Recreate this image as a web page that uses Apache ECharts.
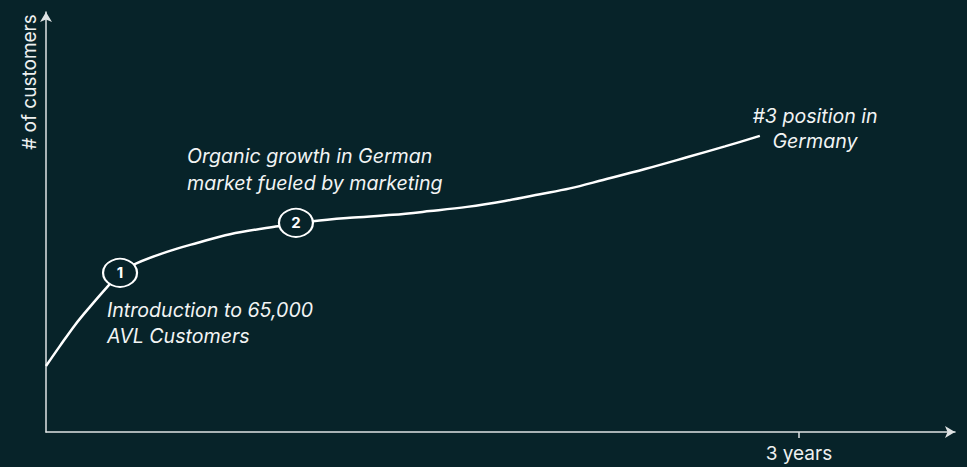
<!DOCTYPE html>
<html>
<head>
<meta charset="utf-8">
<script src="https://cdn.jsdelivr.net/npm/echarts@6/dist/echarts.min.js"></script>
<style>
html,body{margin:0;padding:0;background:#072329;}
#chart{width:967px;height:467px;}
</style>
</head>
<body>
<div id="chart"></div>
<script>
// Months since launch (x) and relative number of customers (y)
const months = [0, 0.67, 1.39, 2.10, 2.92, 3.54, 4.35, 5.78, 7.22, 8.80, 11.09, 12.76, 14.53, 16.59, 18.36, 20.13, 21.94, 23.62, 25.05, 26.63, 28.64, 30.64, 32.46, 34.13];
const customers = [15.7, 20.5, 25.5, 29.8, 34.5, 37.9, 40.2, 42.9, 45.0, 47.1, 49.0, 50.2, 51.0, 51.7, 52.6, 53.6, 55.0, 56.6, 58.0, 60.0, 62.6, 65.4, 68.0, 70.5];
// Milestone markers
const markerMonths = [3.54, 11.95];
const markerValues = [37.9, 49.8];
const markerLabels = ['1', '2'];
// Tick labels
const tickMonths = [36];
const tickLabels = ['3 years'];
const yAxisTitle = '# of customers';
// Annotations
const note1 = ['Introduction to 65,000', 'AVL Customers'];
const note2 = ['Organic growth in German', 'market fueled by marketing'];
const note3 = ['#3 position in', 'Germany'];

const BG = '#072329';
const AXIS = '#dfe3e4';
const FONT = 'Inter, "Liberation Sans", Arial, sans-serif';

const chart = echarts.init(document.getElementById('chart'), null, {renderer: 'svg'});

const seriesData = months.map((m, i) => [m, customers[i]]);
const markers = markerMonths.map((m, i) => ({coord: [m, markerValues[i]], value: markerLabels[i]}));

function noteText(lines, x, y0, lh, align) {
  return lines.map((t, i) => ({
    type: 'text', x: x, y: y0 + i * lh, silent: true,
    style: {text: t, fill: '#f2f4f4', font: 'italic 19.6px ' + FONT, align: align, verticalAlign: 'middle'}
  }));
}

chart.setOption({
  backgroundColor: BG,
  animation: false,
  grid: {left: 46, right: 12, top: 12, bottom: 35},
  xAxis: {
    type: 'value', min: 0, max: 43.46,
    splitLine: {show: false},
    axisLine: {show: true, lineStyle: {color: AXIS, width: 1.5}, symbol: ['none', 'arrow'], symbolSize: [9, 10]},
    axisTick: {show: true, customValues: tickMonths, length: 6, inside: false, lineStyle: {color: AXIS, width: 1.5}},
    axisLabel: {show: true, customValues: tickMonths, margin: 12, color: '#eef0f0', fontSize: 19, fontFamily: FONT,
      formatter: (v) => tickLabels[tickMonths.indexOf(v)] || ''}
  },
  yAxis: {
    type: 'value', min: 0, max: 100,
    splitLine: {show: false},
    axisLine: {show: true, lineStyle: {color: AXIS, width: 1.5}, symbol: ['none', 'arrow'], symbolSize: [9, 10]},
    axisTick: {show: false},
    axisLabel: {show: false}
  },
  series: [{
    type: 'line',
    data: seriesData,
    smooth: 0.35,
    showSymbol: false,
    lineStyle: {color: '#ffffff', width: 2.5},
    z: 2,
    markPoint: {
      symbol: 'circle',
      symbolSize: [34, 28],
      itemStyle: {color: BG, borderColor: '#ffffff', borderWidth: 2},
      label: {show: true, position: 'inside', color: '#ffffff', fontWeight: 'bold', fontSize: 15, fontFamily: FONT, formatter: '{c}'},
      data: markers
    }
  }],
  graphic: [
    {type: 'text', x: 29, y: 82, rotation: Math.PI / 2, silent: true,
     style: {text: yAxisTitle, fill: '#eef0f0', font: '19px ' + FONT, align: 'center', verticalAlign: 'middle'}}
  ].concat(noteText(note1, 107, 310, 26, 'left'))
   .concat(noteText(note2, 187, 156, 27, 'left'))
   .concat(noteText(note3, 815, 116, 25, 'center'))
});
</script>
</body>
</html>
